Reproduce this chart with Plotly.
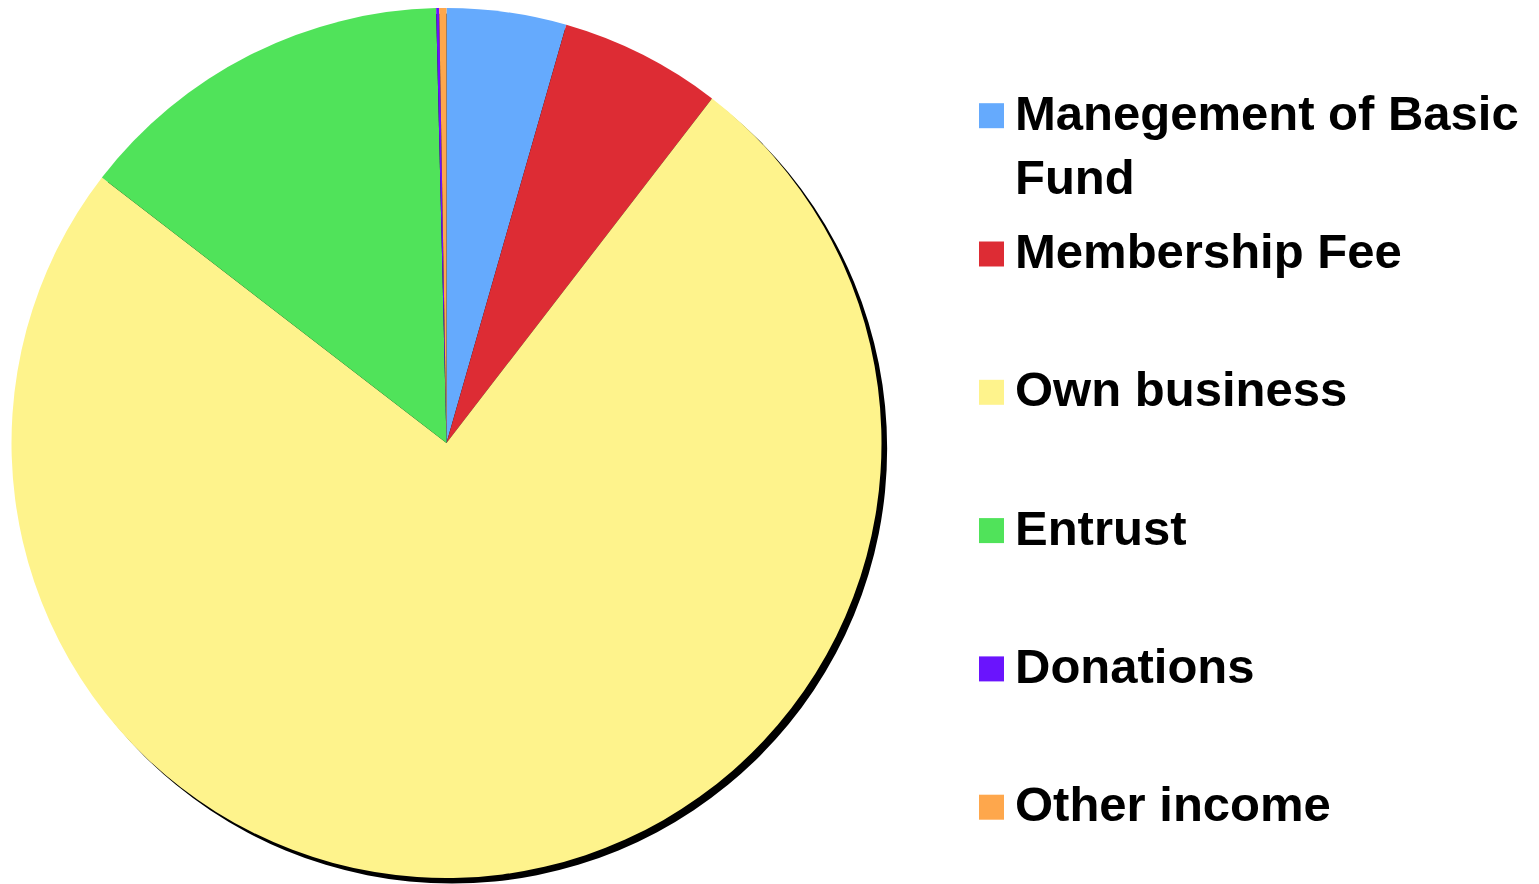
import plotly.graph_objects as go

# ---- data ----
labels = ["Manegement of Basic Fund", "Membership Fee", "Own business",
          "Entrust", "Donations", "Other income"]
legend_text = ["Manegement of Basic<br>Fund", "Membership Fee", "Own business",
               "Entrust", "Donations", "Other income"]
values = [4.44, 6.01, 74.99, 14.17, 0.11, 0.27]
colors = ["#65AAFD", "#DD2C34", "#FEF38C", "#50E35A", "#6A14FD", "#FEA74C"]

# page has an 8px body margin; work in page pixels and convert
OFF = 8
W, H = 1539 - OFF, 884 - OFF


def clamp(v):
    return min(1.0, max(0.0, v))


def px(xp):
    return clamp((xp - OFF) / W)


def py(yp):
    return clamp(1 - (yp - OFF) / H)


# pie geometry (page pixels)
cx, cy, r = 446.5, 443, 435
shadow_dx, shadow_dy = 5.5, 5.5


def dom(cx_, cy_, r_):
    return dict(x=[px(cx_ - r_), px(cx_ + r_)],
                y=[py(cy_ + r_), py(cy_ - r_)])


fig = go.Figure()

# drop shadow
fig.add_trace(go.Pie(
    values=[1], labels=["shadow"], marker=dict(colors=["#000000"]),
    textinfo="none", hoverinfo="skip", showlegend=False, sort=False,
    domain=dom(cx + shadow_dx, cy + shadow_dy, r),
))

fig.add_trace(go.Pie(
    labels=labels, values=values,
    marker=dict(colors=colors, line=dict(width=0)),
    textinfo="none", sort=False, direction="clockwise", rotation=0,
    showlegend=False,
    domain=dom(cx, cy, r),
))

# legend drawn as squares + text
FS = 49
leg_sq_x0, leg_sq_size = 979, 25
leg_text_x = 1013
leg_y0, leg_pitch = 115.7, 138.3
line_h = FS * 1.3
shapes, annots = [], []
for i, (txt, col) in enumerate(zip(legend_text, colors)):
    yc = leg_y0 + i * leg_pitch
    shapes.append(dict(type="rect", xref="paper", yref="paper",
                       x0=px(leg_sq_x0), x1=px(leg_sq_x0 + leg_sq_size),
                       y0=py(yc + leg_sq_size / 2),
                       y1=py(yc - leg_sq_size / 2),
                       fillcolor=col, line=dict(width=0)))
    annots.append(dict(text="<b>" + txt + "</b>", xref="paper", yref="paper",
                       x=px(leg_text_x), y=py(yc - line_h / 2),
                       xanchor="left", yanchor="top", align="left",
                       showarrow=False,
                       font=dict(family="Liberation Sans, Arial", size=FS,
                                 color="#000000")))

fig.update_layout(
    width=W, height=H,
    margin=dict(l=0, r=0, t=0, b=0),
    paper_bgcolor="#FFFFFF", plot_bgcolor="#FFFFFF",
    shapes=shapes, annotations=annots,
)

fig.write_html("out.html")
